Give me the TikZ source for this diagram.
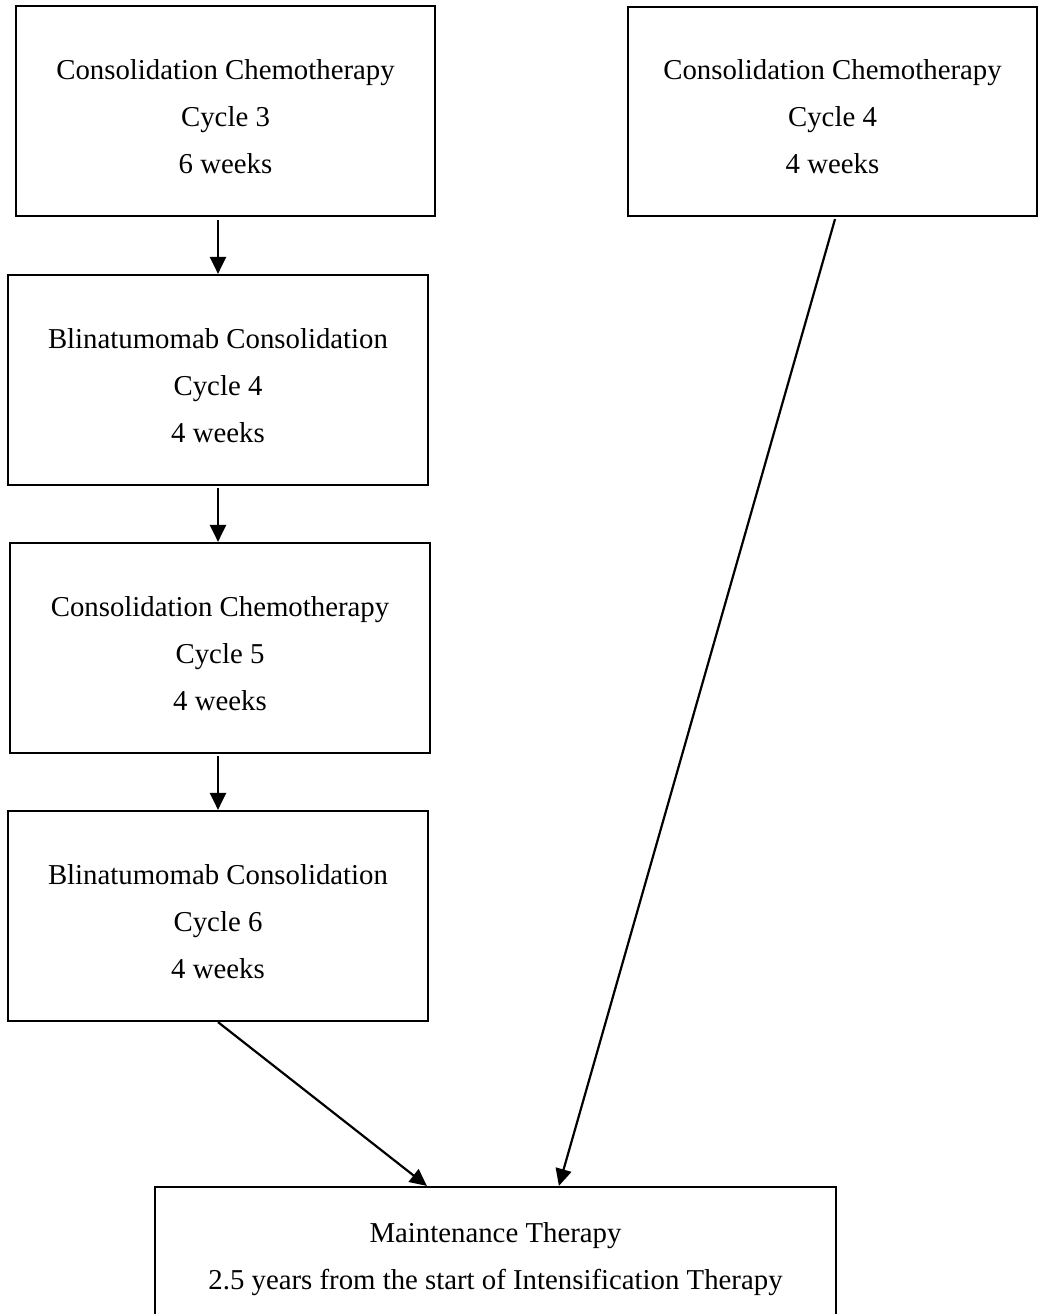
\documentclass[tikz,border=0pt]{standalone}
\usepackage{fontspec}
\setmainfont{Liberation Serif}
\usetikzlibrary{arrows.meta,calc}
\begin{document}
\begin{tikzpicture}[x=1pt,y=-1pt,
  box/.style={draw, line width=2.2pt, align=center, inner sep=0pt, text height=124pt, text depth=0pt, font=\fontsize{28.8}{47}\selectfont},
  arr/.style={line width=2.2pt, -{Triangle[length=17pt,width=16pt]}}]
\useasboundingbox (0,0) rectangle (1040,1314);
\node[box, minimum width=419pt, minimum height=210pt] (b1) at (225.5,111) {Consolidation Chemotherapy\\Cycle 3\\6 weeks};
\node[box, minimum width=409pt, minimum height=209pt] (b2) at (832.5,111.5) {Consolidation Chemotherapy\\Cycle 4\\4 weeks};
\node[box, minimum width=420pt, minimum height=210pt] (b3) at (218,380) {Blinatumomab Consolidation\\Cycle 4\\4 weeks};
\node[box, minimum width=420pt, minimum height=210pt] (b4) at (220,648) {Consolidation Chemotherapy\\Cycle 5\\4 weeks};
\node[box, minimum width=420pt, minimum height=210pt] (b5) at (218,916) {Blinatumomab Consolidation\\Cycle 6\\4 weeks};
\node[box, text height=71pt, text depth=6pt, minimum width=681pt, minimum height=140pt] (b6) at (495.5,1257) {Maintenance Therapy\\2.5 years from the start of Intensification Therapy};
\coordinate (t4) at ([xshift=273pt]b6.north west);
\coordinate (t5) at ([xshift=405pt]b6.north west);
\coordinate (s5) at ([xshift=2.5pt,yshift=-2pt]b2.south);
\draw[arr, shorten <=3pt] (b1.south -| b3.north) -- (b3.north);
\draw[arr, shorten <=2pt] (b3.south) -- (b3.south |- b4.north);
\draw[arr, shorten <=2pt] (b4.south -| b5.north) -- (b5.north);
\draw[arr] (b5.south) -- (t4);
\draw[arr] (s5) -- (t5);
\end{tikzpicture}
\end{document}
